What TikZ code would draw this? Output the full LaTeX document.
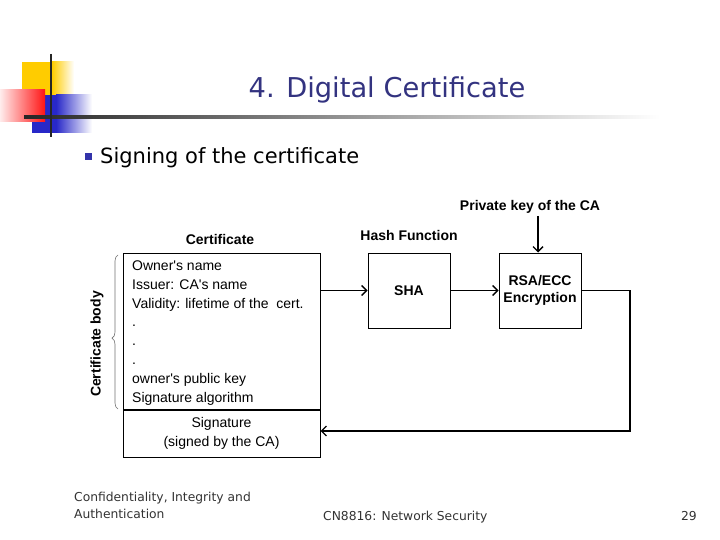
\documentclass[tikz,border=0pt]{standalone}
\usepackage{fontspec}
\setmainfont{Liberation Sans}
\newfontfamily\tah{DejaVu Sans}
\usetikzlibrary{arrows.meta,decorations.pathreplacing}
\definecolor{navy}{RGB}{51,51,128}
\definecolor{logoyellow}{RGB}{255,204,0}
\definecolor{logored}{RGB}{255,20,20}
\definecolor{logoblue}{RGB}{40,40,200}
\definecolor{bulletblue}{RGB}{51,51,170}
\begin{document}
\begin{tikzpicture}[x=1pt,y=-1pt,
  box/.style={draw, line width=1pt, inner sep=0, minimum width=82pt, minimum height=75pt,
    font=\bfseries\fontsize{14}{17}\selectfont, align=center},
  lbl/.style={font=\bfseries\fontsize{14}{16}\selectfont, inner sep=0},
  bodytext/.style={anchor=mid west, inner sep=0, font=\fontsize{14}{16}\selectfont},
  arr/.style={-{Straight Barb[length=5pt,width=10pt]}, line width=1.4pt},
  foot/.style={font=\tah\fontsize{12.3}{14}\selectfont, text=black!80, inner sep=0}]
\useasboundingbox (0,0) rectangle (720,540);
\fill[white] (0,0) rectangle (720,540);
% logo
\fill[logoyellow] (22,62) rectangle (52,95);
\shade[left color=logoyellow, right color=white] (52,62) rectangle (74,95);
\fill[logoblue] (32,95) rectangle (56,133);
\shade[left color=logoblue, right color=white] (56,95) rectangle (92,133);
\shade[left color=logored!8, right color=logored] (0,90) rectangle (45,122);
\shade[left color=black!85, right color=white] (24,116) rectangle (660,119);
\draw[line width=2.5pt, black!85] (51,54) -- (51,137);
% title
\node[font=\tah\fontsize{27.3}{30}\selectfont, text=navy, anchor=base, inner sep=0] (title) at (387,98) {4. Digital Certificate};
% bullet
\node[fill=bulletblue, minimum size=7pt, inner sep=0] (bul) at (88,157) {};
\node[font=\tah\fontsize{21}{24}\selectfont, anchor=base west, inner sep=0] (sub) at (100,164) {Signing of the certificate};
% certificate
\node[lbl] (certlbl) at (220,239) {Certificate};
\node[draw, line width=1pt, minimum width=197pt, minimum height=157pt, inner sep=0] (body) at (221.5,331.5) {};
\node[draw, line width=1pt, minimum width=197pt, minimum height=48pt, inner sep=0,
  align=center, font=\fontsize{14}{19}\selectfont] (sig) at (221.5,433) {Signature\\(signed by the CA)};
\node[bodytext] (l1) at (132,268) {Owner\textquotesingle s name};
\node[bodytext] (l2) at (132,287) {Issuer: CA\textquotesingle s name};
\node[bodytext] (l3) at (132,305.5) {Validity: lifetime of the\ \ cert.};
\node[bodytext] (d1) at (132,324) {.};
\node[bodytext] (d2) at (132,343) {.};
\node[bodytext] (d3) at (132,362) {.};
\node[bodytext] (l4) at (132,381) {owner\textquotesingle s public key};
\node[bodytext] (l5) at (132,399.5) {Signature algorithm};
\draw[black!55, line width=0.6pt, decoration={brace, amplitude=6pt, aspect=0.46}, decorate] (118,409) -- (118,255);
\node[lbl, rotate=90] (bodylbl) at (97,344) {Certificate body};
% hash and encryption
\node[lbl] (hashlbl) at (409,235) {Hash Function};
\node[box] (sha) at (409,290.5) {SHA};
\node[box] (rsa) at (540,290.5) {RSA/ECC\\Encryption};
\node[lbl] (pk) at (530,207) {Private key of the CA};
\coordinate (pkend) at (538,216);
\draw[arr] (body.east |- sha.west) -- (sha.west);
\draw[arr] (sha.east) -- (rsa.west);
\draw[arr] (pkend) -- (pkend |- rsa.north);
\coordinate (ret) at (630,431);
\draw[arr] (rsa.east) -| (ret) -- (ret -| sig.east);
% footer
\node[foot, anchor=mid west] (f1) at (74,499) {Confidentiality, Integrity and};
\node[foot, anchor=mid west] (f2) at (74,516) {Authentication};
\node[foot, anchor=mid west] (f3) at (323,518) {CN8816: Network Security};
\node[foot, anchor=mid east] (f4) at (697,518) {29};
\end{tikzpicture}
\end{document}
